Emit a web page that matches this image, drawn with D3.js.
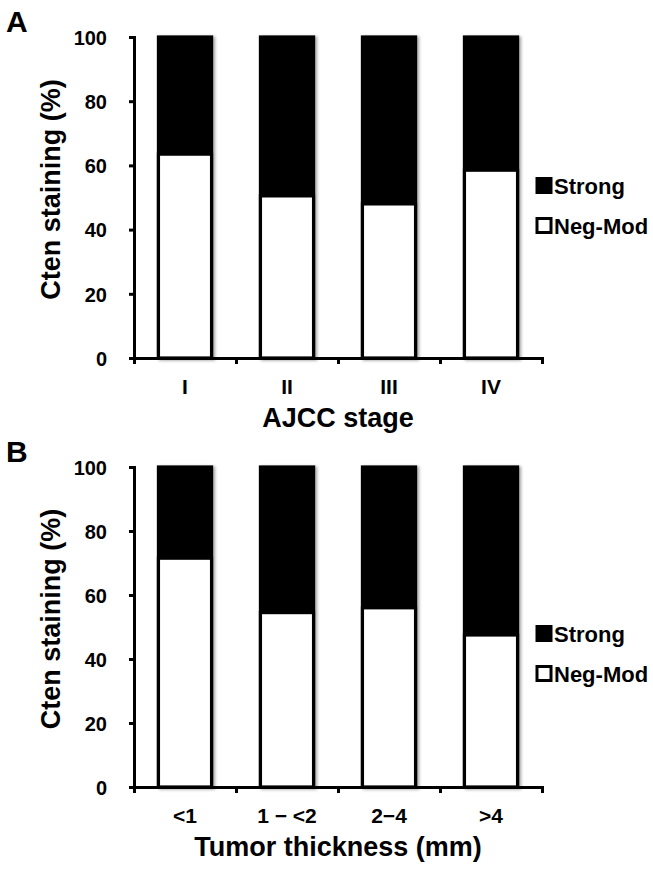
<!DOCTYPE html>
<html>
<head>
<meta charset="utf-8">
<script src="https://cdn.jsdelivr.net/npm/d3@7"></script>
<style>
  html, body { margin: 0; padding: 0; background: #fff; }
  svg { display: block; }
  text { font-family: "Liberation Sans", Arial, sans-serif; font-weight: bold; fill: #000; }
</style>
</head>
<body>
<svg id="chart" width="653" height="869"></svg>
<script>
// ---------- data ----------
const seriesNames = ["Neg-Mod", "Strong"];
const yTicks = [0, 20, 40, 60, 80, 100];

const stageCategories = ["I", "II", "III", "IV"];
const stageNegMod = [63.5, 50.5, 48, 58.5];
const stageStrong = [36.5, 49.5, 52, 41.5];

const thicknessCategories = ["<1", "1 \u2212 <2", "2\u22124", ">4"];
const thicknessNegMod = [71.5, 54.5, 56, 47.5];
const thicknessStrong = [28.5, 45.5, 44, 52.5];

// ---------- drawing ----------
const svg = d3.select("#chart");
const defs = svg.append("defs");
const f = defs.append("filter").attr("id", "shadow")
  .attr("x", "-20%").attr("y", "-5%").attr("width", "150%").attr("height", "115%");
f.append("feDropShadow").attr("dx", 2).attr("dy", 1).attr("stdDeviation", 1.6)
  .attr("flood-color", "#000").attr("flood-opacity", 0.35);

const fills = { "Neg-Mod": "#fff", "Strong": "#000" };

function drawPanel(opts) {
  const g = svg.append("g");
  const x = d3.scaleBand().domain(opts.categories).range([134, 542])
    .paddingInner(0.45).paddingOuter(0.225);
  const xb = d3.scaleLinear().domain([0, opts.categories.length]).range([134, 542]);
  const y = d3.scaleLinear().domain([0, 100]).range([opts.bottom, opts.top]);

  const rows = opts.categories.map((c, i) => ({ cat: c, "Neg-Mod": opts.neg[i], "Strong": opts.strong[i] }));
  const stacked = d3.stack().keys(seriesNames)(rows);

  // bars: the black (Strong) bar spans the full stack, the white part sits over its lower section
  const barG = g.append("g");
  stacked.slice().reverse().forEach(layer => {
    barG.selectAll(null).data(layer).enter().append("rect")
      .attr("x", d => x(d.data.cat) + 1.5)
      .attr("width", x.bandwidth() - 3)
      .attr("y", d => y(d[1]))
      .attr("height", d => y(0) - y(d[1]))
      .attr("fill", fills[layer.key])
      .attr("stroke", "#000")
      .attr("stroke-width", 3.2)
      .attr("filter", layer.key === "Strong" ? "url(#shadow)" : null);
  });

  // y axis
  const yAxis = g.append("g").attr("transform", "translate(134,0)")
    .call(d3.axisLeft(y).tickValues(yTicks).tickSize(5).tickSizeOuter(0).tickPadding(22));
  yAxis.select(".domain").attr("stroke-width", 3).attr("stroke-linecap", "square");
  yAxis.selectAll(".tick line").attr("stroke-width", 3);
  yAxis.selectAll(".tick text").style("font-size", "20px").attr("dy", "0.36em");

  // x axis with ticks at category boundaries
  const xAxis = g.append("g").attr("transform", `translate(0,${opts.bottom})`)
    .call(d3.axisBottom(xb).ticks(opts.categories.length).tickSize(6).tickSizeOuter(0).tickFormat(""));
  xAxis.select(".domain").attr("stroke-width", 3).attr("stroke-linecap", "square");
  xAxis.selectAll(".tick line").attr("stroke-width", 3);

  // category labels
  g.selectAll(null).data(opts.categories).enter().append("text")
    .attr("x", d => x(d) + x.bandwidth() / 2)
    .attr("y", opts.bottom + 36)
    .attr("text-anchor", "middle")
    .style("font-size", "21px")
    .text(d => d);

  // axis titles
  g.append("text")
    .attr("x", 338).attr("y", opts.bottom + 69)
    .attr("text-anchor", "middle")
    .style("font-size", "27px")
    .text(opts.xTitle);

  g.append("text")
    .attr("transform", `translate(60,${(opts.top + opts.bottom) / 2 - 8}) rotate(-90)`)
    .attr("text-anchor", "middle")
    .style("font-size", "27px")
    .text("Cten staining (%)");

  // panel letter
  g.append("text").attr("x", 6).attr("y", opts.top - 5)
    .style("font-size", "30px").text(opts.letter);

  // legend
  const leg = g.append("g");
  ["Strong", "Neg-Mod"].forEach((k, i) => {
    const ly = opts.legendY + i * 40;
    leg.append("rect").attr("x", 537).attr("y", ly - 7.5).attr("width", 14).attr("height", 14)
      .attr("fill", fills[k]).attr("stroke", "#000").attr("stroke-width", 3);
    leg.append("text").attr("x", 554).attr("y", ly).attr("dy", "0.36em")
      .style("font-size", "22px").text(k);
  });
}

drawPanel({
  letter: "A", categories: stageCategories, neg: stageNegMod, strong: stageStrong,
  top: 37, bottom: 358, xTitle: "AJCC stage", legendY: 186
});
drawPanel({
  letter: "B", categories: thicknessCategories, neg: thicknessNegMod, strong: thicknessStrong,
  top: 467, bottom: 787, xTitle: "Tumor thickness (mm)", legendY: 634
});
</script>
</body>
</html>
